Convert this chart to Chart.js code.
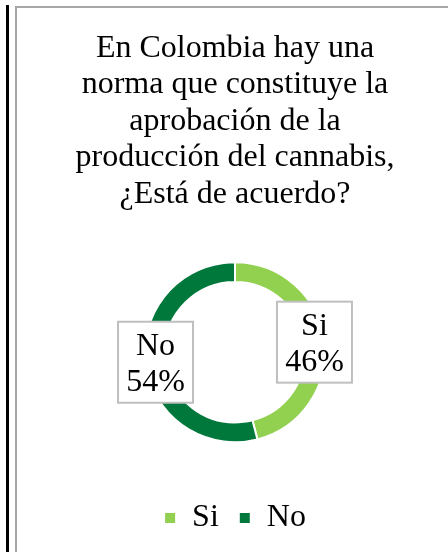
<!DOCTYPE html>
<html><head><meta charset="utf-8">
<script src="https://cdn.jsdelivr.net/npm/chart.js@4/dist/chart.umd.min.js"></script>
<style>
html,body{margin:0;padding:0;background:#fff;width:448px;height:552px;overflow:hidden;position:relative}
#blk{position:absolute;left:6px;top:5px;width:3px;height:547px;background:#000}
#gv{position:absolute;left:15px;top:6px;width:2px;height:546px;background:#a6a6a6}
#gh{position:absolute;left:15px;top:6px;width:433px;height:2px;background:#a6a6a6}
#wrap{position:absolute;left:17px;top:8px;width:431px;height:544px}
</style></head>
<body>
<div id="blk"></div><div id="gv"></div><div id="gh"></div>
<div id="wrap"><canvas id="c" width="431" height="544"></canvas></div>
<script>
const titleLines = ["En Colombia hay una","norma que constituye la","aprobación de la","producción del cannabis,","¿Está de acuerdo?"];
const categories = ["Si","No"];
const values = [46,54];
const colors = ["#92D050","#00783C"];
const FONT = "'Liberation Serif','Times New Roman',serif";

const labelPlugin = {
  id:'boxLabels',
  afterDatasetsDraw(chart){
    const ctx = chart.ctx;
    const meta = chart.getDatasetMeta(0);
    const total = values.reduce((a,b)=>a+b,0);
    meta.data.forEach((arc,i)=>{
      const p = arc.getProps(['x','y','startAngle','endAngle','innerRadius','outerRadius'],true);
      const mid = (p.startAngle+p.endAngle)/2;
      const r = (p.innerRadius+p.outerRadius)/2;
      const cx = p.x + Math.cos(mid)*r;
      const cy = p.y + Math.sin(mid)*r;
      const w = 75, h = 81;
      ctx.save();
      ctx.fillStyle = '#fff';
      ctx.fillRect(cx-w/2, cy-h/2, w, h);
      ctx.strokeStyle = '#bfbfbf';
      ctx.lineWidth = 2;
      ctx.strokeRect(cx-w/2, cy-h/2, w, h);
      ctx.fillStyle = '#000';
      ctx.font = "32px " + FONT;
      ctx.textAlign = 'center';
      ctx.textBaseline = 'middle';
      ctx.fillText(categories[i], cx, cy-16);
      ctx.fillText(Math.round(values[i]/total*100)+'%', cx, cy+20);
      ctx.restore();
    });
  }
};

new Chart(document.getElementById('c'), {
  type:'doughnut',
  data:{labels:categories, datasets:[{data:values, backgroundColor:colors, borderColor:'#fff', borderWidth:2, radius:90, cutout:'78%'}]},
  options:{
    responsive:false, animation:false,
    layout:{padding:{left:5,right:0,top:0,bottom:8}},
    plugins:{
      title:{display:true, text:titleLines, color:'#000', font:{family:FONT,size:32,lineHeight:1.14,weight:'normal'}, padding:{top:22,bottom:10}},
      legend:{position:'bottom', labels:{color:'#000', boxWidth:12, boxHeight:12, font:{family:FONT,size:32}, padding:20}},
      tooltip:{enabled:false}
    }
  },
  plugins:[labelPlugin]
});
</script>
</body></html>
